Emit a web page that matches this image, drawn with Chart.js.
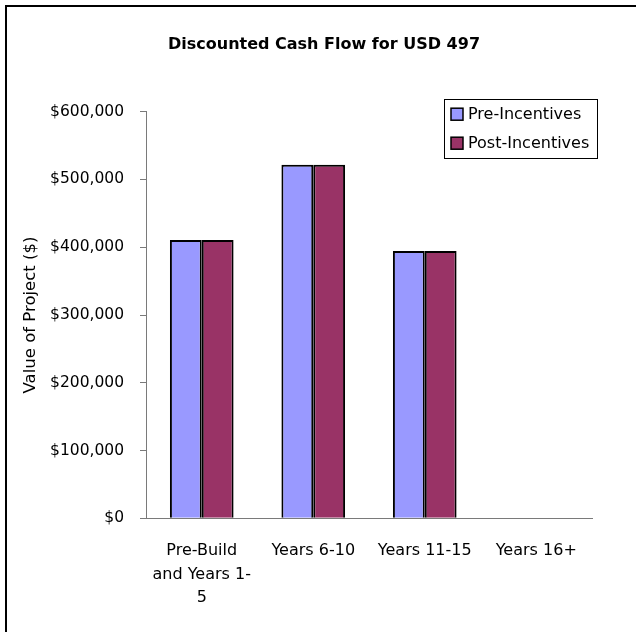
<!DOCTYPE html>
<html>
<head>
<meta charset="utf-8">
<title>Discounted Cash Flow for USD 497</title>
<script src="https://cdn.jsdelivr.net/npm/chart.js@4.4.1/dist/chart.umd.min.js"></script>
<style>
  html, body { margin: 0; padding: 0; background: #fff; }
  #wrap { width: 636px; height: 632px; }
</style>
</head>
<body>
<div id="wrap"><canvas id="dcf" width="636" height="632"></canvas></div>
<script>
// Periods of the project (multi-line labels are arrays)
const categories = [["Pre-Build", "and Years 1-", "5"], "Years 6-10", "Years 11-15", "Years 16+"];
// Discounted value of the project per period, in USD
const preIncentives  = [410500, 521700, 394300, 0];
const postIncentives = [410500, 521700, 394300, 0];
const seriesNames = ["Pre-Incentives", "Post-Incentives"];
// Value axis ticks
const yTickValues = [0, 100000, 200000, 300000, 400000, 500000, 600000];
const chartTitle = "Discounted Cash Flow for USD 497";

const FONT = "'DejaVu Sans', Verdana, sans-serif";
const AXIS_GREY = "#7a7a7a";

// White background, the frame line along the top and left edges, and the title
const framePlugin = {
  id: "frame",
  beforeDraw(chart) {
    const ctx = chart.ctx;
    ctx.save();
    ctx.fillStyle = "#fff";
    ctx.fillRect(0, 0, chart.width, chart.height);
    ctx.strokeStyle = "#000";
    ctx.lineWidth = 2;
    ctx.beginPath();
    ctx.moveTo(6, chart.height);
    ctx.lineTo(6, 6);
    ctx.lineTo(chart.width, 6);
    ctx.stroke();
    ctx.fillStyle = "#000";
    ctx.font = "bold 16px " + FONT;
    ctx.textAlign = "center";
    ctx.textBaseline = "middle";
    ctx.fillText(chartTitle, 324, 45);
    ctx.restore();
  }
};

// Boxed legend in the upper right corner of the plot
const boxedLegend = {
  id: "boxedLegend",
  afterDraw(chart) {
    const ctx = chart.ctx;
    const area = chart.chartArea;
    const boxW = 153, boxH = 59;
    const left = area.right + 5 - boxW;
    const top = area.top - 13;
    ctx.save();
    ctx.fillStyle = "#fff";
    ctx.fillRect(left, top, boxW, boxH);
    ctx.strokeStyle = "#000";
    ctx.lineWidth = 1;
    ctx.strokeRect(Math.round(left) + 0.5, Math.round(top) + 0.5, boxW, boxH);
    ctx.font = "16px " + FONT;
    ctx.textBaseline = "middle";
    ctx.textAlign = "left";
    chart.data.datasets.forEach((ds, i) => {
      const cy = top + 16 + i * 29;
      ctx.fillStyle = ds.backgroundColor;
      ctx.fillRect(left + 7, cy - 6.5, 12, 12);
      ctx.strokeStyle = "#000";
      ctx.lineWidth = 1.5;
      ctx.strokeRect(left + 7, cy - 6.5, 12, 12);
      ctx.fillStyle = "#000";
      ctx.fillText(ds.label, left + 24, cy);
    });
    ctx.restore();
  }
};

new Chart(document.getElementById("dcf"), {
  type: "bar",
  data: {
    labels: categories,
    datasets: [
      {
        label: seriesNames[0],
        data: preIncentives,
        backgroundColor: "#9999FF",
        borderColor: "#000",
        borderWidth: 2
      },
      {
        label: seriesNames[1],
        data: postIncentives,
        backgroundColor: "#993366",
        borderColor: "#000",
        borderWidth: 2
      }
    ]
  },
  options: {
    responsive: false,
    animation: false,
    devicePixelRatio: 1,
    layout: { padding: { left: 0, right: 44, top: 111.7, bottom: 0 } },
    datasets: { bar: { categoryPercentage: 0.571, barPercentage: 1.0 } },
    plugins: {
      legend: { display: false },
      tooltip: { enabled: false },
      title: { display: false }
    },
    scales: {
      x: {
        grid: { display: false },
        border: { display: true, color: AXIS_GREY, width: 1 },
        ticks: {
          color: "#000",
          font: { family: FONT, size: 16, lineHeight: 1.47 },
          padding: 13,
          maxRotation: 0,
          autoSkip: false
        },
        afterFit(scale) { scale.height = 113.7; }
      },
      y: {
        min: 0,
        max: yTickValues[yTickValues.length - 1],
        afterBuildTicks(scale) {
          scale.ticks = yTickValues.map(v => ({ value: v }));
        },
        grid: {
          drawOnChartArea: false,
          drawTicks: true,
          tickLength: 6,
          color: AXIS_GREY
        },
        border: { display: true, color: AXIS_GREY, width: 1 },
        ticks: {
          color: "#000",
          font: { family: FONT, size: 15.5 },
          padding: 16,
          callback: v => "$" + Number(v).toLocaleString("en-US")
        },
        title: {
          display: true,
          text: "Value of Project ($)",
          color: "#000",
          font: { family: FONT, size: 16.5, lineHeight: 1.2 },
          padding: { top: 21, bottom: 0 }
        },
        afterFit(scale) { scale.width = 146; }
      }
    }
  },
  plugins: [framePlugin, boxedLegend]
});
</script>
</body>
</html>
